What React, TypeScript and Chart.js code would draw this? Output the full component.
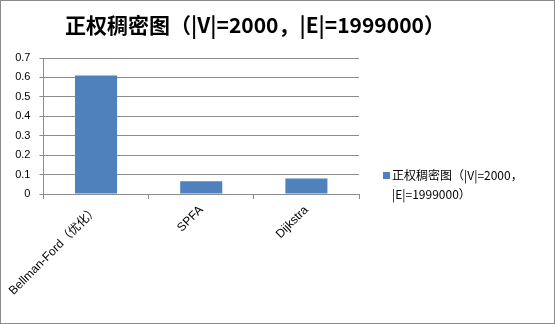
import React, { useEffect, useRef } from "react";
import { Chart, registerables } from "chart.js";

Chart.register(...registerables);

const titleText = "正权稠密图（|V|=2000，|E|=1999000）";
const categories = ["Bellman-Ford（优化）", "SPFA", "Dijkstra"];
const seriesName = "正权稠密图（|V|=2000，|E|=1999000）";
const legendLines = ["正权稠密图（|V|=2000，", "|E|=1999000）"];
const values = [0.61, 0.065, 0.08];
const yMin = 0;
const yMax = 0.7;
const yStep = 0.1;

const BAR = "#4F81BD";
const GRID = "#8C8C8C";

const decorPlugin = {
  id: "decor",
  afterDraw(chart: any) {
    const ctx = chart.ctx;
    ctx.save();
    ctx.strokeStyle = "#8A8A8A";
    ctx.lineWidth = 1;
    ctx.strokeRect(0.5, 0.5, chart.width - 1, chart.height - 1);
    ctx.fillStyle = "#000";
    ctx.font = "bold 21px 'Noto Sans CJK SC', 'DejaVu Sans', sans-serif";
    ctx.textAlign = "center";
    ctx.textBaseline = "middle";
    ctx.fillText(titleText, 255, 25);
    ctx.fillStyle = BAR;
    ctx.fillRect(383, 172, 7, 7);
    ctx.fillStyle = "#000";
    ctx.font = "12px 'Noto Sans CJK SC', 'Liberation Sans', sans-serif";
    ctx.textAlign = "left";
    ctx.textBaseline = "middle";
    legendLines.forEach((line, i) => ctx.fillText(line, 392, 175 + i * 19));
    ctx.restore();
  },
};

export default function App() {
  const ref = useRef<HTMLCanvasElement>(null);
  useEffect(() => {
    if (!ref.current) return;
    const chart = new Chart(ref.current, {
      type: "bar",
      data: {
        labels: categories,
        datasets: [
          {
            label: seriesName,
            data: values,
            backgroundColor: BAR,
            barPercentage: 0.4,
            categoryPercentage: 1,
          },
        ],
      },
      options: {
        responsive: false,
        animation: false,
        devicePixelRatio: 1,
        layout: { padding: { top: 58, right: 196, left: 0, bottom: 0 } },
        plugins: {
          legend: { display: false },
          title: { display: false },
          tooltip: { enabled: false },
        },
        scales: {
          x: {
            afterFit: (s: any) => {
              s.height = 130;
            },
            grid: {
              display: true,
              drawOnChartArea: false,
              drawTicks: true,
              tickLength: 5,
              color: GRID,
              offset: true,
            },
            border: { display: true, color: GRID },
            ticks: {
              minRotation: 45,
              maxRotation: 45,
              padding: 4,
              color: "#000",
              font: { size: 12, family: "'Liberation Sans', 'Noto Sans CJK SC', sans-serif" },
            },
          },
          y: {
            min: yMin,
            max: yMax,
            afterFit: (s: any) => {
              s.width = 43;
            },
            grid: { color: GRID, tickLength: 4, drawTicks: true },
            border: { display: true, color: GRID },
            ticks: {
              stepSize: yStep,
              padding: 9,
              color: "#000",
              font: { size: 11, family: "'Liberation Sans', sans-serif" },
              callback: (v: any) => String(Math.round(Number(v) * 10) / 10),
            },
          },
        },
      },
      plugins: [decorPlugin],
    });
    return () => chart.destroy();
  }, []);
  return (
    <div style={{ position: "fixed", left: 0, top: 0, width: 555, height: 324, background: "#fff" }}>
      <canvas ref={ref} width={555} height={324} style={{ display: "block" }} />
    </div>
  );
}
